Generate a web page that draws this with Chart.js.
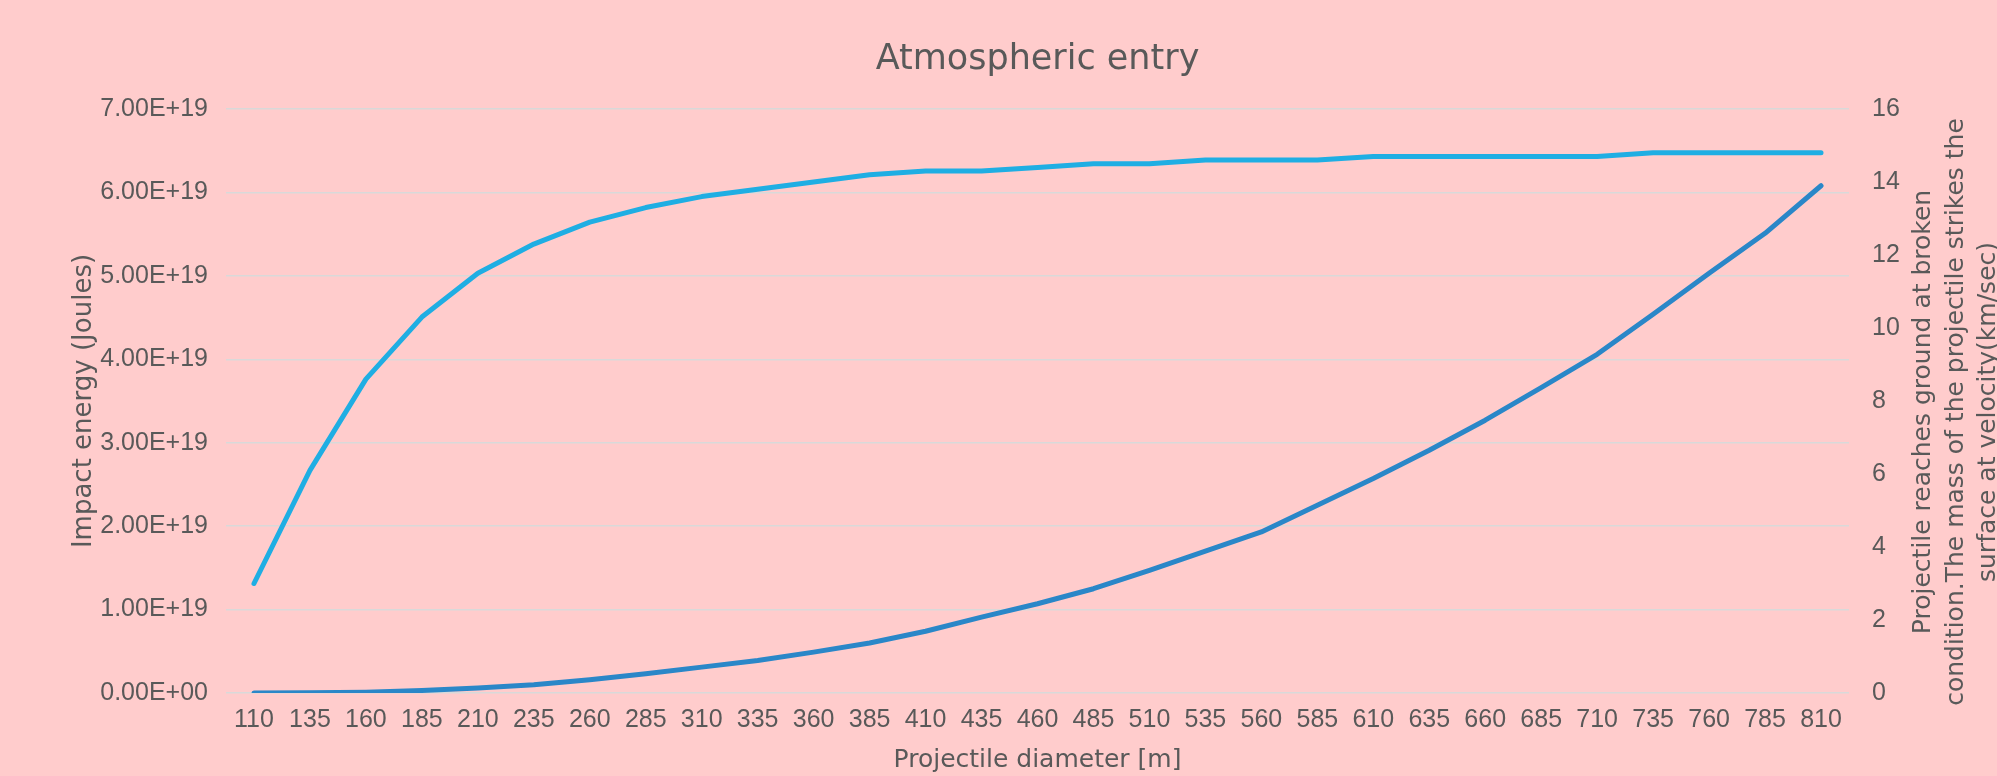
<!DOCTYPE html>
<html>
<head>
<meta charset="utf-8">
<script src="https://cdn.jsdelivr.net/npm/chart.js@4.4.1/dist/chart.umd.min.js"></script>
<style>
  html, body { margin: 0; padding: 0; background: #FFCCCC; }
  #wrap { width: 1997px; height: 776px; }
</style>
</head>
<body>
<div id="wrap"><canvas id="c" width="1997" height="776"></canvas></div>
<script>
// ---- data ----
const diameters = [110, 135, 160, 185, 210, 235, 260, 285, 310, 335, 360, 385, 410, 435, 460,
                   485, 510, 535, 560, 585, 610, 635, 660, 685, 710, 735, 760, 785, 810];
// Impact energy (Joules), left axis
const impactEnergy = [0.001e19, 0.003e19, 0.01e19, 0.03e19, 0.06e19, 0.10e19, 0.16e19, 0.23e19,
                      0.31e19, 0.39e19, 0.49e19, 0.60e19, 0.74e19, 0.91e19, 1.07e19, 1.25e19,
                      1.47e19, 1.70e19, 1.93e19, 2.25e19, 2.57e19, 2.91e19, 3.27e19, 3.66e19,
                      4.06e19, 4.54e19, 5.03e19, 5.51e19, 6.08e19];
// Ground velocity (km/sec), right axis
const velocity = [3.0, 6.1, 8.6, 10.3, 11.5, 12.3, 12.9, 13.3, 13.6, 13.8, 14.0, 14.2, 14.3, 14.3,
                  14.4, 14.5, 14.5, 14.6, 14.6, 14.6, 14.7, 14.7, 14.7, 14.7, 14.7, 14.8, 14.8,
                  14.8, 14.8];
const chartTitle = 'Atmospheric entry';
const xTitle = 'Projectile diameter [m]';
const leftTitle = 'Impact energy (Joules)';
const rightTitleLines = ['Projectile reaches ground at broken',
                         'condition.The mass of the projectile strikes the',
                         'surface at velocity(km/sec)'];
const leftAxisRange = { min: 0, max: 7e19, step: 1e19 };
const rightAxisRange = { min: 0, max: 16, step: 2 };

// ---- style ----
const TEXT = '#595959';
const GRID = '#D9D9D9';
const TICK_FONT = { family: "'Liberation Sans Narrow', 'Liberation Sans', sans-serif", size: 25 };
const TITLE_FONT_FAMILY = "'DejaVu Sans', sans-serif";

function sciLabel(v) {
  const s = Number(v).toExponential(2).toUpperCase();
  const [m, e] = s.split('E');
  const sign = e[0] === '-' ? '-' : '+';
  const digits = e.replace(/[+-]/, '').padStart(2, '0');
  return m + 'E' + sign + digits;
}

const bgPlugin = {
  id: 'bg',
  beforeDraw(chart) {
    const ctx = chart.ctx;
    ctx.save();
    ctx.fillStyle = '#FFCCCC';
    ctx.fillRect(0, 0, chart.width, chart.height);
    ctx.restore();
  }
};

const rightTitlePlugin = {
  id: 'rightTitle',
  afterDraw(chart) {
    const ctx = chart.ctx;
    const area = chart.chartArea;
    const cy = (area.top + area.bottom) / 2 + 11;
    const cx = 1956;
    const lh = 32.5;
    ctx.save();
    ctx.translate(cx, cy);
    ctx.rotate(-Math.PI / 2);
    ctx.fillStyle = TEXT;
    ctx.font = '25px ' + TITLE_FONT_FAMILY;
    ctx.textAlign = 'center';
    ctx.textBaseline = 'middle';
    rightTitleLines.forEach((line, i) => {
      ctx.fillText(line, 0, (i - 1) * lh);
    });
    ctx.restore();
  }
};

new Chart(document.getElementById('c'), {
  type: 'line',
  data: {
    labels: diameters,
    datasets: [
      {
        label: 'Impact energy',
        data: impactEnergy,
        yAxisID: 'yLeft',
        borderColor: '#2A87C8',
        backgroundColor: '#2A87C8',
        borderWidth: 5,
        borderCapStyle: 'round',
        borderJoinStyle: 'round',
        pointRadius: 0,
        tension: 0,
        fill: false
      },
      {
        label: 'Velocity',
        data: velocity,
        yAxisID: 'yRight',
        borderColor: '#1FAEE3',
        backgroundColor: '#1FAEE3',
        borderWidth: 5,
        borderCapStyle: 'round',
        borderJoinStyle: 'round',
        pointRadius: 0,
        tension: 0,
        fill: false
      }
    ]
  },
  options: {
    responsive: false,
    animation: false,
    devicePixelRatio: 1,
    layout: { padding: 0 },
    plugins: {
      legend: { display: false },
      tooltip: { enabled: false },
      title: {
        display: true,
        text: chartTitle,
        color: TEXT,
        fullSize: false,
        font: { family: TITLE_FONT_FAMILY, size: 35, weight: 'normal' },
        padding: { top: 39, bottom: 28 }
      }
    },
    scales: {
      x: {
        type: 'category',
        offset: true,
        grid: { display: false, drawTicks: false },
        border: { display: false },
        ticks: {
          color: TEXT,
          font: TICK_FONT,
          padding: 12,
          maxRotation: 0,
          minRotation: 0,
          autoSkip: false
        },
        title: {
          display: true,
          text: xTitle,
          color: TEXT,
          font: { family: TITLE_FONT_FAMILY, size: 25 },
          padding: { top: 0, bottom: 1 }
        },
        afterFit(scale) { scale.height = 83; }
      },
      yLeft: {
        type: 'linear',
        position: 'left',
        min: leftAxisRange.min,
        max: leftAxisRange.max,
        grid: { color: GRID, lineWidth: 1.5, drawTicks: false },
        border: { display: false },
        ticks: {
          stepSize: leftAxisRange.step,
          color: TEXT,
          font: TICK_FONT,
          padding: 18,
          callback: (v) => sciLabel(v)
        },
        title: {
          display: true,
          text: leftTitle,
          color: TEXT,
          font: { family: TITLE_FONT_FAMILY, size: 26 },
          padding: { top: 69, bottom: 0 }
        },
        afterFit(scale) { scale.width = 226; }
      },
      yRight: {
        type: 'linear',
        position: 'right',
        min: rightAxisRange.min,
        max: rightAxisRange.max,
        grid: { display: false, drawTicks: false },
        border: { display: false },
        ticks: {
          stepSize: rightAxisRange.step,
          color: TEXT,
          font: TICK_FONT,
          padding: 23
        },
        afterFit(scale) { scale.width = 148; }
      }
    }
  },
  plugins: [bgPlugin, rightTitlePlugin]
});
</script>
</body>
</html>
